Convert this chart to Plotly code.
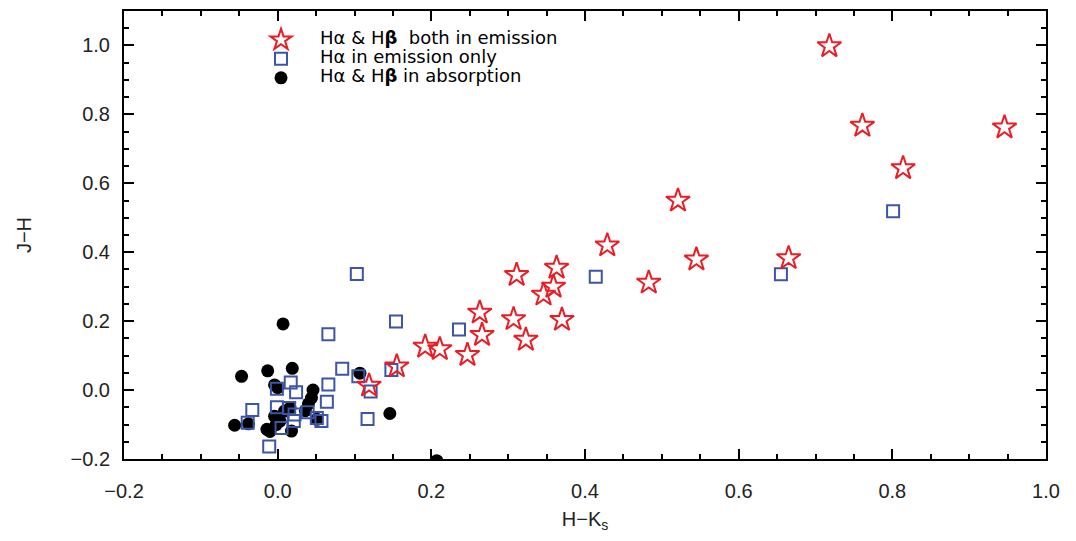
import plotly.graph_objects as go

# Hα & Hβ both in emission (stars)
star_x = [0.718, 0.761, 0.946, 0.814, 0.521, 0.429, 0.311, 0.363, 0.359, 0.346,
          0.545, 0.483, 0.665, 0.263, 0.307, 0.370, 0.266, 0.323, 0.192, 0.211,
          0.247, 0.119, 0.155]
star_y = [0.998, 0.767, 0.762, 0.644, 0.550, 0.420, 0.334, 0.355, 0.300, 0.277,
          0.379, 0.312, 0.383, 0.225, 0.206, 0.204, 0.160, 0.146, 0.126, 0.119,
          0.102, 0.013, 0.069]

# Hα in emission only (squares)
sq_x = [0.801, 0.655, 0.414, 0.236, 0.103, 0.154, 0.066, 0.084, 0.105, 0.121,
        0.148, 0.117, 0.066, 0.064, -0.033, -0.039, -0.011, -0.001, 0.017, 0.024,
        -0.001, 0.015, 0.022, 0.005, 0.021, 0.039, 0.051, 0.057]
sq_y = [0.519, 0.336, 0.329, 0.176, 0.337, 0.199, 0.162, 0.062, 0.040, -0.004,
        0.058, -0.084, 0.016, -0.034, -0.058, -0.095, -0.164, 0.004, 0.022, -0.006,
        -0.050, -0.052, -0.071, -0.110, -0.090, -0.064, -0.081, -0.090]

# Hα & Hβ in absorption (filled circles)
dot_x = [0.007, -0.047, -0.013, 0.019, -0.004, 0.046, 0.044, 0.040, 0.036, -0.056,
         -0.038, -0.014, -0.004, -0.002, 0.018, 0.009, 0.000, 0.051, 0.016, 0.107,
         0.146, 0.207, -0.010, 0.003]
dot_y = [0.192, 0.040, 0.056, 0.063, 0.015, 0.000, -0.023, -0.040, -0.060, -0.102,
         -0.098, -0.114, -0.076, -0.100, -0.119, -0.061, 0.007, -0.085, -0.052, 0.049,
         -0.068, -0.205, -0.120, -0.090]

x_ticks = [-0.2, 0.0, 0.2, 0.4, 0.6, 0.8, 1.0]
y_ticks = [-0.2, 0.0, 0.2, 0.4, 0.6, 0.8, 1.0]

legend_names = ["Hα & H<b>β</b>  both in emission", "Hα in emission only", "Hα & H<b>β</b> in absorption"]

RED = "#EC1C24"
BLUE = "#3B55A8"


def leg(t):
    return '<span style="font-size:18px">' + t + '</span>'


fig = go.Figure()
fig.add_trace(go.Scatter(
    x=dot_x, y=dot_y, mode="markers", name=leg(legend_names[2]),
    marker=dict(symbol="circle", size=13, color="black", line=dict(width=0)),
))
fig.add_trace(go.Scatter(
    x=sq_x, y=sq_y, mode="markers", name=leg(legend_names[1]),
    marker=dict(symbol="square-open", size=12, color=BLUE, line=dict(width=2, color=BLUE)),
))
fig.add_trace(go.Scatter(
    x=star_x, y=star_y, mode="markers", name=leg(legend_names[0]),
    marker=dict(symbol="star-open", size=18, color=RED, line=dict(width=2, color=RED)),
))

FONT = "Liberation Sans, Arial, sans-serif"

axis_common = dict(
    showline=True, linecolor="black", linewidth=2, mirror="allticks",
    ticks="inside", ticklen=10, tickwidth=1.5, tickcolor="black",
    showgrid=False, zeroline=False,
    tickfont=dict(family=FONT, size=20, color="#222"),
    tickformat=".1f",
    minor=dict(ticks="inside", ticklen=5, tickwidth=1.5, tickcolor="black", dtick=0.05, showgrid=False),
)

fig.update_xaxes(
    range=[-0.2, 1.0], tickvals=x_ticks, **axis_common,
    title=dict(text="H−K<sub>s</sub>", font=dict(family=FONT, size=20, color="#222"), standoff=11),
    ticklabelstandoff=13,
)
fig.update_yaxes(
    range=[-0.2, 1.1], tickvals=y_ticks, **axis_common,
    title=dict(text="J−H", font=dict(family=FONT, size=20, color="#222"), standoff=34),
    ticklabelstandoff=8,
)

fig.update_layout(
    width=1068, height=533,
    margin=dict(l=116, r=30, t=1, b=82),
    paper_bgcolor="white", plot_bgcolor="white",
    showlegend=True,
    legend=dict(
        x=0.128, y=0.968, xanchor="left", yanchor="top",
        traceorder="reversed",
        font=dict(family="DejaVu Sans, sans-serif", size=11, color="black"),
        bgcolor="rgba(0,0,0,0)", borderwidth=0,
        itemwidth=68, tracegroupgap=0,
    ),
)

fig.write_html("out.html")
